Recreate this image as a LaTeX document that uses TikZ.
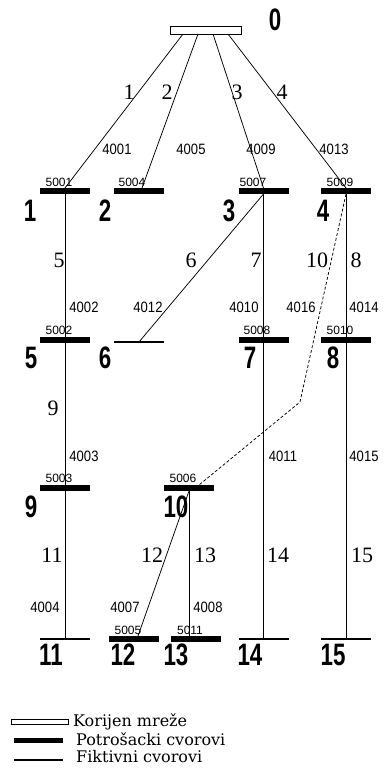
\documentclass[tikz,border=0pt]{standalone}
\usepackage{fontspec}
\usepackage{graphicx}
\setmainfont{Liberation Serif}
\newfontfamily\lsans{Liberation Sans}
\newfontfamily\dserif{DejaVu Serif}
\usetikzlibrary{calc}
\newcommand{\mybig}[1]{{\lsans\bfseries\fontsize{31}{31}\selectfont\scalebox{0.72}[1]{#1}}}
\begin{document}
\begin{tikzpicture}[x=1pt,y=-1pt,
  bus/.style={draw=none,fill=black,minimum width=50pt,minimum height=6pt,inner sep=0,outer sep=0},
  fict/.style={draw=none,fill=black,minimum width=50pt,minimum height=1.4pt,inner sep=0,outer sep=0},
  wire/.style={line width=0.75pt},
  big/.style={inner sep=0},
  elab/.style={inner sep=0,font=\fontsize{22}{22}\selectfont},
  clab/.style={inner sep=0,font=\lsans\fontsize{15}{15}\selectfont},
  blab/.style={inner sep=0,font=\lsans\fontsize{12}{12}\selectfont},
  leg/.style={inner sep=0,anchor=base west,font=\dserif\fontsize{16}{16}\selectfont}]
\useasboundingbox (0,0) rectangle (383,768);
% root
\node[draw,line width=0.8pt,fill=white,minimum width=71pt,minimum height=8pt,inner sep=0,outer sep=0] (b0) at (205.5,30) {};
% buses
\node[bus] (b1) at (65,191) {};
\node[bus] (b2) at (139,191) {};
\node[bus] (b3) at (263.5,191) {};
\node[bus] (b4) at (346,191) {};
\node[bus] (b5) at (65,340) {};
\node[fict] (b6) at (139,342) {};
\node[bus] (b7) at (263.5,340) {};
\node[bus] (b8) at (346,340) {};
\node[bus] (b9) at (65,488) {};
\node[bus] (b10) at (189,488) {};
\node[fict] (b11) at (65,639) {};
\node[bus] (b12) at (134,639) {};
\node[bus] (b13) at (196,639) {};
\node[fict] (b14) at (263.5,639) {};
\node[fict] (b15) at (346,639) {};
\coordinate (k10) at (300,402);
% connectors
\draw[wire] ($(b0.south)+(-22.5,0)$) -- (b1.north);
\draw[wire] ($(b0.south)+(-7.5,0)$) -- ($(b2.north)+(3,0)$);
\draw[wire] ($(b0.south)+(7.5,0)$) -- (b3.north);
\draw[wire] ($(b0.south)+(22.5,0)$) -- (b4.north);
\draw[wire] (b1) -- (b5) -- (b9) -- (b11);
\draw[wire] (b3) -- (b7) -- (b14);
\draw[wire] (b4) -- (b8) -- (b15);
\draw[wire] (b3.south) -- (b6);
\draw[wire,dash pattern=on 3pt off 2pt] (b4.south) -- (k10) -- ($(b10.north)+(10,0)$);
\draw[wire] (b10.south) -- (b10.south |- b13.north);
\draw[wire] (b10.south) -- ($(b12.north)+(4,0)$);
% big node numbers
\node[big] (n0) at (275,20) {\mybig{0}};
\foreach \t/\x/\y in {1/30/211,2/105/211,3/229/211,4/323/211,5/31/358,6/105/358,7/250/358,8/333/358,9/31/507,10/176/507,11/51/655,12/123/655,13/176/655,14/250/655,15/333/655}
  \node[big] (n\t) at (\x,\y) {\mybig{\t}};
% branch numbers
\foreach \t/\x/\y in {1/129/92,2/167/92,3/237/92,4/282/92,5/59/260,6/191/260,7/256/260,10/317/260,8/356/260,9/53/408,11/52/555,12/152/555,13/205/555,14/278/555,15/362/555}
  \node[elab] (e\t) at (\x,\y) {\t};
% branch codes
\foreach \t/\x/\y in {4001/117/149,4005/191/149,4009/261/149,4013/334/149,4002/84/307,4012/148/307,4010/244/307,4016/301/307,4014/364/307,4003/84/456,4011/283/456,4015/364/456,4004/45/607,4007/125/607,4008/208/607}
  \node[clab] (c\t) at (\x,\y) {\scalebox{0.87}[1]{\t}};
% bus codes
\foreach \t/\x/\y in {5001/59/182,5004/132/182,5007/253/182,5009/340/182,5002/59/330,5008/257/330,5010/340/330,5003/59/478,5006/183/478,5005/128/630,5011/190/630}
  \node[blab] (s\t) at (\x,\y) {\t};
% legend
\node[draw,line width=0.7pt,fill=white,minimum width=57pt,minimum height=5pt,inner sep=0,outer sep=0] (g0) at (39.5,721.5) {};
\node[leg] (t0) at (73,726) {Korijen mreže};
\node[bus,minimum width=49pt,minimum height=5pt] (g1) at (38.5,740.5) {};
\node[leg] (t1) at (76,745) {Potrošacki cvorovi};
\node[fict,minimum width=49pt,minimum height=1.2pt] (g2) at (38.5,760) {};
\node[leg] (t2) at (76,762) {Fiktivni cvorovi};
\end{tikzpicture}
\end{document}
